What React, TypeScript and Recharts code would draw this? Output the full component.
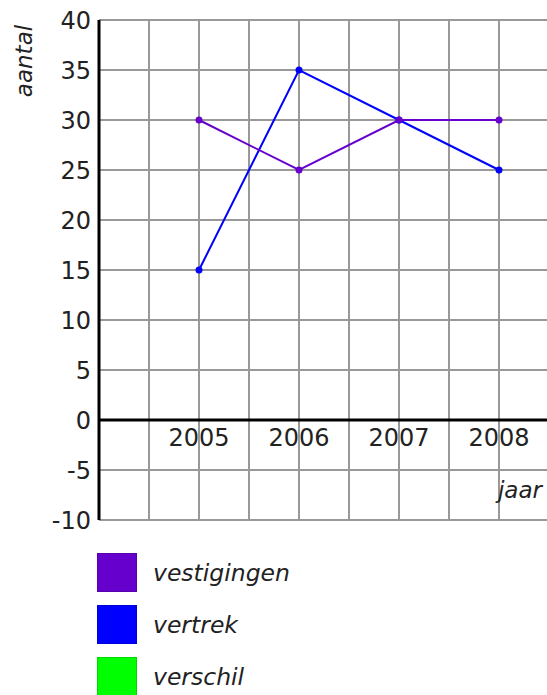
import {
  LineChart,
  Line,
  XAxis,
  YAxis,
  CartesianGrid,
  ReferenceLine,
  ReferenceDot,
} from "recharts";

const years = [2005, 2006, 2007, 2008];
const vestigingen = [30, 25, 30, 30];
const vertrek = [15, 35, 30, 25];
const yTicks = [-10, -5, 0, 5, 10, 15, 20, 25, 30, 35, 40];
const xGrid = [2004, 2004.5, 2005, 2005.5, 2006, 2006.5, 2007, 2007.5, 2008, 2008.5];

const seriesNames = ["vestigingen", "vertrek", "verschil"];
const seriesColors = ["#6600cc", "#0000ff", "#00ff00"];

const font = "'DejaVu Sans', Verdana, sans-serif";

const data = years.map((jaar, i) => ({
  jaar,
  vestigingen: vestigingen[i],
  vertrek: vertrek[i],
}));

// x ticks only feed the grid, the year labels sit on the zero line
const NoTick = () => <g />;

const App = () => {
  return (
    <div
      style={{
        position: "absolute",
        left: 0,
        top: 0,
        width: 547,
        height: 695,
        overflow: "hidden",
        background: "#fff",
        fontFamily: font,
      }}
    >
      <LineChart
        width={549}
        height={540}
        data={data}
        margin={{ top: 20, right: 0, bottom: 20, left: 0 }}
      >
        <CartesianGrid stroke="#999" strokeWidth={2} />
        <XAxis
          type="number"
          dataKey="jaar"
          domain={[2004, 2008.5]}
          ticks={xGrid}
          interval={0}
          tick={<NoTick />}
          tickLine={false}
          axisLine={false}
          height={0}
        />
        <YAxis
          domain={[-10, 40]}
          ticks={yTicks}
          width={99}
          tickLine={false}
          axisLine={{ stroke: "#000", strokeWidth: 3 }}
          tick={{ fill: "#222", fontSize: 24, fontFamily: font }}
        />
        <ReferenceLine y={0} stroke="#000" strokeWidth={3} />
        {years.map((yr) => (
          <ReferenceDot
            key={yr}
            x={yr}
            y={0}
            r={0}
            fill="none"
            stroke="none"
            label={{
              value: String(yr),
              position: "bottom",
              offset: 9,
              fill: "#222",
              fontSize: 24,
              fontFamily: font,
            }}
          />
        ))}
        <Line
          type="linear"
          dataKey="vertrek"
          stroke={seriesColors[1]}
          strokeWidth={2}
          dot={{ r: 3.5, fill: seriesColors[1], stroke: seriesColors[1], strokeWidth: 0 }}
          isAnimationActive={false}
        />
        <Line
          type="linear"
          dataKey="vestigingen"
          stroke={seriesColors[0]}
          strokeWidth={2}
          dot={{ r: 3.5, fill: seriesColors[0], stroke: seriesColors[0], strokeWidth: 0 }}
          isAnimationActive={false}
        />
      </LineChart>

      {/* axis titles */}
      <div
        style={{
          position: "absolute",
          left: 24,
          top: 61,
          transform: "translate(-50%, -50%) rotate(-90deg)",
          fontStyle: "italic",
          fontSize: 23,
          color: "#222",
          whiteSpace: "nowrap",
        }}
      >
        aantal
      </div>
      <div
        style={{
          position: "absolute",
          right: 5,
          top: 477,
          fontStyle: "italic",
          fontSize: 23,
          color: "#222",
        }}
      >
        jaar
      </div>

      {/* legend */}
      {seriesNames.map((name, i) => (
        <div
          key={name}
          style={{
            position: "absolute",
            left: 97,
            top: 553 + i * 52,
            display: "flex",
            alignItems: "center",
          }}
        >
          <div
            style={{
              width: 40,
              height: 39,
              background: seriesColors[i],
              boxShadow: "inset 0 0 0 1px rgba(0,0,0,0.15)",
            }}
          />
          <span
            style={{
              marginLeft: 16,
              fontStyle: "italic",
              fontSize: 23.5,
              color: "#222",
            }}
          >
            {name}
          </span>
        </div>
      ))}
    </div>
  );
};

export default App;
